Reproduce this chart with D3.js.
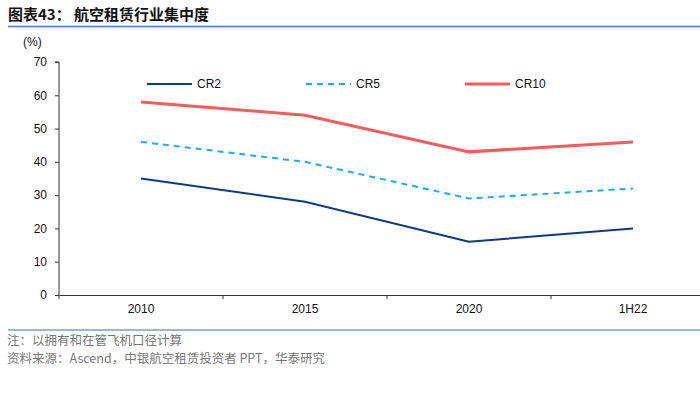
<!DOCTYPE html>
<html>
<head>
<meta charset="utf-8">
<script src="https://cdn.jsdelivr.net/npm/d3@7"></script>
<style>
body { margin: 0; background: #fff; }
svg { display: block; font-family: "Liberation Sans", Arial, sans-serif; }
</style>
</head>
<body>
<div id="chart"></div>
<script>
var categories = ["2010", "2015", "2020", "1H22"]
var cr2 = [35, 28, 16, 20]
var cr5 = [46, 40, 29, 32]
var cr10 = [58, 54, 43, 46]
var yTicks = [0, 10, 20, 30, 40, 50, 60, 70]

var series = [
	{ name: "CR2", values: cr2, color: "#0e3a84", dash: null },
	{ name: "CR5", values: cr5, color: "#12b0f0", dash: "6,5" },
	{ name: "CR10", values: cr10, color: "#f95b5b", dash: null }
]

var width = 700, height = 399
var svg = d3.select("#chart").append("svg")
	.attr("width", width)
	.attr("height", height)

// 标题
svg.append("text")
	.attr("x", 8).attr("y", 20)
	.text("图表43： 航空租赁行业集中度")
	.style("font-family", "'Noto Sans CJK SC', sans-serif")
	.style("font-weight", "bold")
	.style("font-size", "15px")
	.style("fill", "#111")
svg.append("line")
	.attr("x1", 8).attr("x2", width).attr("y1", 26.5).attr("y2", 26.5)
	.attr("stroke", "#4e79b3").attr("stroke-width", 1.5)

var x = d3.scaleBand().domain(categories).range([59, 715])
var y = d3.scaleLinear().domain([0, 70]).range([295, 62])

// y 轴
var yAxis = svg.append("g")
	.attr("transform", "translate(59,0)")
	.call(d3.axisLeft(y).tickValues(yTicks).tickSize(4).tickPadding(8))
yAxis.select(".domain").attr("stroke", "#333").attr("d", "M-4,62H0V295")
yAxis.selectAll(".tick line").attr("stroke", "#333")
yAxis.selectAll("text").style("font-size", "12px").style("fill", "#111")

svg.append("text")
	.attr("x", 23).attr("y", 46)
	.text("(%)")
	.style("font-size", "12px").style("fill", "#111")

// x 轴
var xAxis = svg.append("g")
	.attr("transform", "translate(0,295)")
	.call(d3.axisBottom(x).tickSize(0).tickPadding(9))
xAxis.select(".domain").attr("stroke", "#333")
xAxis.selectAll("text").style("font-size", "12px").style("fill", "#111")
xAxis.selectAll(".sep")
	.data(categories)
	.enter().append("line")
	.attr("class", "sep")
	.attr("x1", d => x(d)).attr("x2", d => x(d))
	.attr("y1", 0).attr("y2", 4)
	.attr("stroke", "#333")

// 折线
var line = d3.line()
	.x((d, i) => x(categories[i]) + x.bandwidth() / 2)
	.y(d => y(d))

svg.selectAll(".series")
	.data(series)
	.enter().append("path")
	.attr("class", "series")
	.attr("d", d => line(d.values))
	.attr("fill", "none")
	.attr("stroke", d => d.color)
	.attr("stroke-width", d => d.name == "CR10" ? 3 : 2)
	.attr("stroke-dasharray", d => d.dash)

// 图例
var legendX = [147, 306, 465]
var lg = svg.selectAll(".lg")
	.data(series)
	.enter().append("g")
	.attr("class", "lg")
	.attr("transform", (d, i) => `translate(${legendX[i]},84)`)
lg.append("line")
	.attr("x1", 0).attr("x2", 45).attr("y1", 0).attr("y2", 0)
	.attr("stroke", d => d.color)
	.attr("stroke-width", d => d.name == "CR10" ? 3 : 2)
	.attr("stroke-dasharray", d => d.dash)
lg.append("text")
	.attr("x", 50).attr("dy", "0.35em")
	.text(d => d.name)
	.style("font-size", "12px").style("fill", "#111")

// 底部
svg.append("line")
	.attr("x1", 8).attr("x2", width).attr("y1", 330).attr("y2", 330)
	.attr("stroke", "#7f9cc4").attr("stroke-width", 1.5)
svg.append("text")
	.attr("x", 7).attr("y", 345)
	.text("注：以拥有和在管飞机口径计算")
	.style("font-family", "'Noto Sans CJK SC', sans-serif")
	.style("font-size", "12.5px").style("fill", "#777")
svg.append("text")
	.attr("x", 7).attr("y", 363)
	.text("资料来源：Ascend，中银航空租赁投资者 PPT，华泰研究")
	.style("font-family", "'Noto Sans CJK SC', sans-serif")
	.style("font-size", "12.5px").style("fill", "#777")
</script>
</body>
</html>
